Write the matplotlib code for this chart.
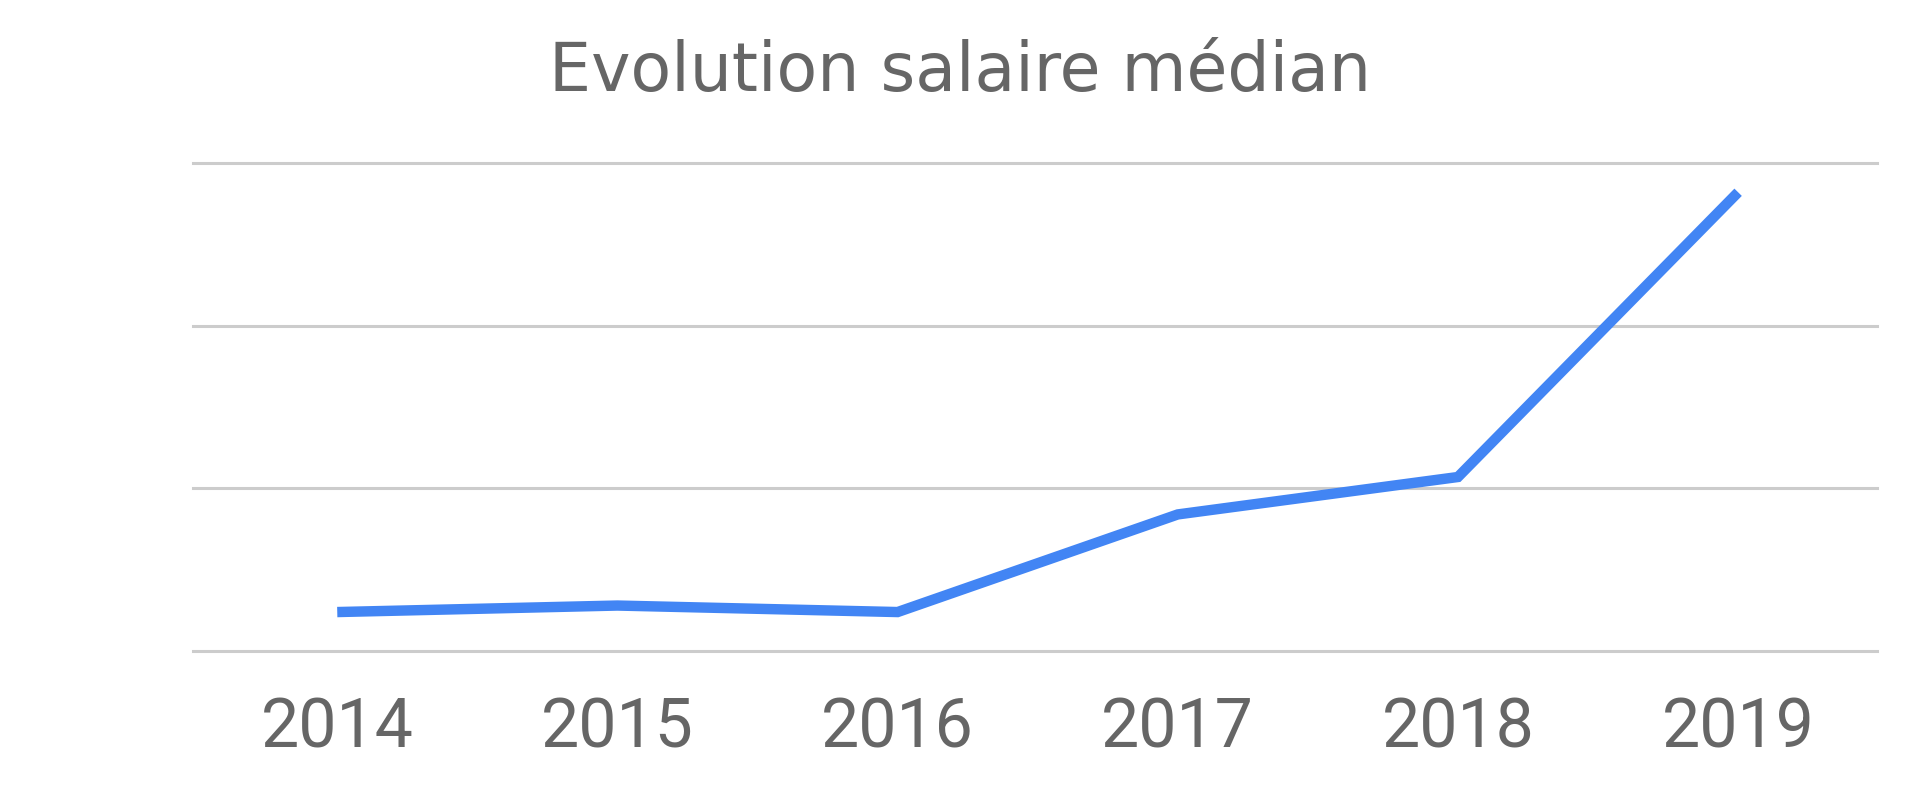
import matplotlib
matplotlib.use('Agg')
import matplotlib.pyplot as plt
import numpy as np

# values, in gridline steps (no y labels shown)
years = ['2014', '2015', '2016', '2017', '2018', '2019']
salaire = [0.24, 0.28, 0.24, 0.84, 1.07, 2.82]
title = "Evolution salaire médian"

fig = plt.figure(figsize=(19.2, 7.95), dpi=100)
ax = fig.add_axes([0.1005, 0.181, 0.877, 0.614])

x = np.arange(len(years))
ax.plot(x, salaire, color='#4285F4', linewidth=7.5, solid_joinstyle='miter', solid_capstyle='butt', zorder=3)

ax.set_xlim(-0.515, len(years) - 1 + 0.495)
ax.set_ylim(0, 3)
ax.set_yticks([0, 1, 2, 3])
ax.yaxis.grid(True, color='#cccccc', linewidth=2.2)
for gl in ax.get_ygridlines():
    gl.set_clip_on(False)
ax.tick_params(axis='y', left=False, labelleft=False)
ax.set_xticks(x)
ax.set_xticklabels(years, fontsize=49, color='#666666', family='Roboto')
ax.tick_params(axis='x', length=0, pad=32)
for s in ax.spines.values():
    s.set_visible(False)

fig.text(0.5, 1 - 72 / 795, title, ha='center', va='center', fontsize=48,
         color='#666666', family='DejaVu Sans')

plt.savefig('out.png', dpi=100, facecolor='white')
